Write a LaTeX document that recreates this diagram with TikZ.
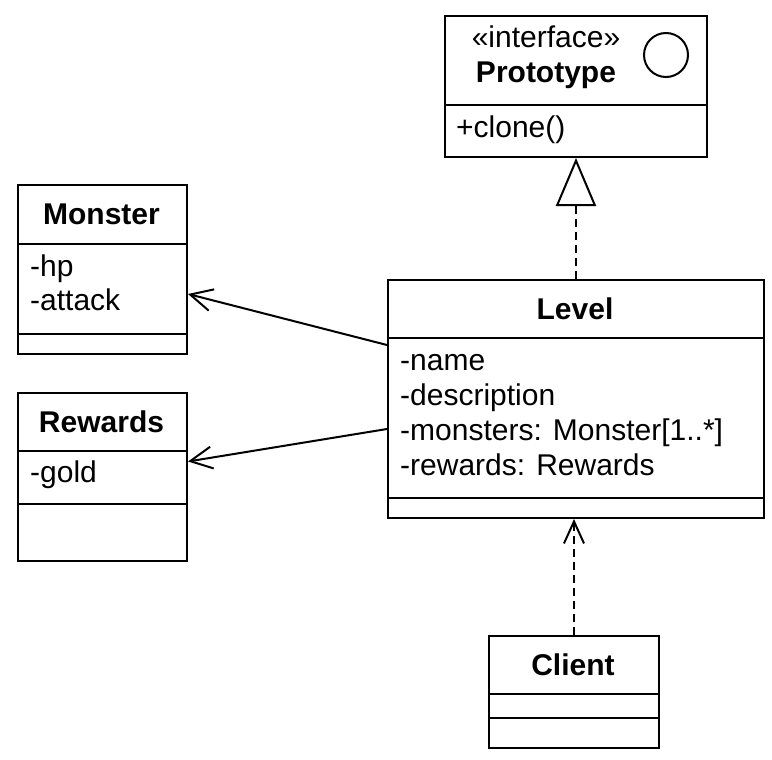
\documentclass[tikz,border=0pt]{standalone}
\usepackage{fontspec}
\setmainfont{Liberation Sans}
\usetikzlibrary{arrows.meta,calc}
\begin{document}
\begin{tikzpicture}[x=1pt,y=-1pt,
  comp/.style={draw=black,line width=2pt,inner sep=0pt,anchor=north west},
  txt/.style={inner sep=0pt,anchor=base west,font=\fontsize{30}{35}\selectfont},
  ttl/.style={inner sep=0pt,anchor=base,font=\fontsize{30}{35}\selectfont\bfseries},
  assoc/.style={line width=2pt,-{Straight Barb[length=22pt,width=22pt,line width=2pt]}},
  dep/.style={line width=2pt,dash pattern=on 8pt off 5pt,-{Straight Barb[length=22pt,width=20pt,line width=2pt]}},
  real/.style={line width=2pt,dash pattern=on 8pt off 5pt,-{Triangle[open,length=48pt,width=40pt,line width=2pt]}}
]
\useasboundingbox (0,0) rectangle (772,760);
% Prototype
\node[comp,minimum width=262pt,minimum height=89pt] (proto-h) at (444,15) {};
\node[comp,minimum width=262pt,minimum height=52pt] (proto-m) at (444,104) {};
\node[inner sep=0pt,anchor=base,font=\fontsize{30}{35}\selectfont] (proto-st) at (546,48) {«interface»};
\node[ttl] (proto-t) at (546,83) {Prototype};
\node[draw=black,line width=2pt,circle,minimum size=44pt,inner sep=0pt] (proto-c) at (666,55) {};
\node[txt] (proto-m1) at (456,137) {+clone()};
% Monster
\node[comp,minimum width=169pt,minimum height=59pt] (mon-h) at (17,184) {};
\node[comp,minimum width=169pt,minimum height=90pt] (mon-a) at (17,243) {};
\node[comp,minimum width=169pt,minimum height=20pt] (mon-m) at (17,333) {};
\node[ttl] (mon-t) at (101.5,224) {Monster};
\node[txt] (mon-a1) at (30,276) {-hp};
\node[txt] (mon-a2) at (30,310) {-attack};
% Rewards
\node[comp,minimum width=169pt,minimum height=58pt] (rew-h) at (17,392) {};
\node[comp,minimum width=169pt,minimum height=53pt] (rew-a) at (17,450) {};
\node[comp,minimum width=169pt,minimum height=57pt] (rew-m) at (17,503) {};
\node[ttl] (rew-t) at (101.5,432) {Rewards};
\node[txt] (rew-a1) at (30,482) {-gold};
% Level
\node[comp,minimum width=376pt,minimum height=58pt] (lev-h) at (387,279) {};
\node[comp,minimum width=376pt,minimum height=160pt] (lev-a) at (387,337) {};
\node[comp,minimum width=376pt,minimum height=20pt] (lev-m) at (387,497) {};
\node[ttl] (lev-t) at (575,319) {Level};
\node[txt] (lev-a1) at (400,370) {-name};
\node[txt] (lev-a2) at (400,405) {-description};
\node[txt] (lev-a3) at (400,440) {-monsters: Monster[1..*]};
\node[txt] (lev-a4) at (400,475) {-rewards: Rewards};
% Client
\node[comp,minimum width=170pt,minimum height=58pt] (cli-h) at (488,635) {};
\node[comp,minimum width=170pt,minimum height=24pt] (cli-a) at (488,693) {};
\node[comp,minimum width=170pt,minimum height=30pt] (cli-m) at (488,717) {};
\node[ttl] (cli-t) at (573,675) {Client};
% connectors
\draw[real] (lev-h.north) -- (proto-m.south);
\draw[assoc] ($(lev-a.north west)+(0,8)$) -- ($(mon-a.east)+(0,5)$);
\draw[assoc] ($(lev-a.west)+(0,11)$) -- ($(rew-a.east)+(0,-16)$);
\draw[dep] (cli-h.north) -- (cli-h.north |- lev-m.south);
\end{tikzpicture}
\end{document}
